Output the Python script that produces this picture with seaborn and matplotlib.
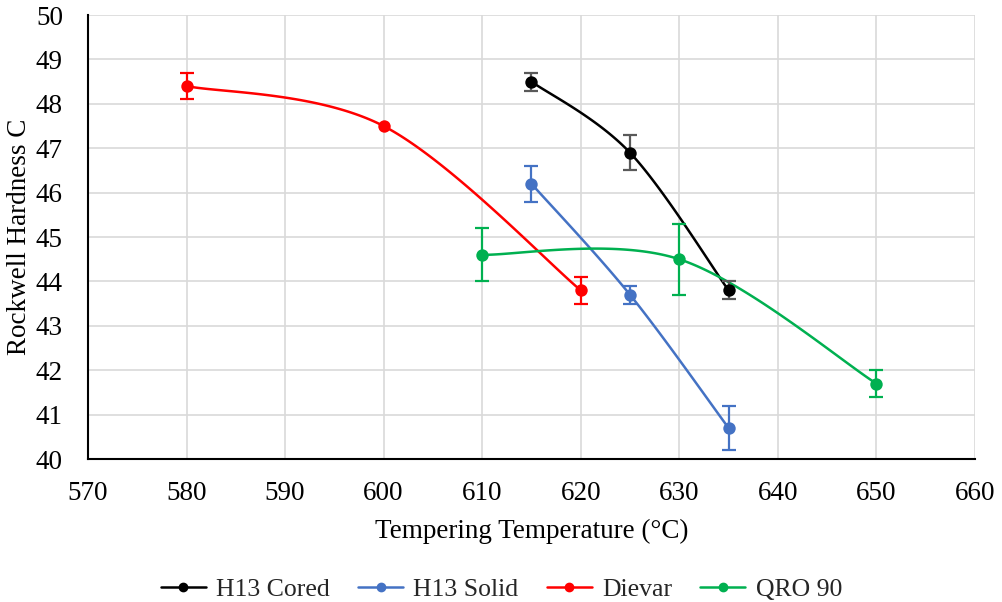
import numpy as np
import pandas as pd
import matplotlib
matplotlib.use("Agg")
import matplotlib.pyplot as plt
import seaborn as sns
from matplotlib.lines import Line2D

series_names = ["H13 Cored", "H13 Solid", "Dievar", "QRO 90"]
h13_cored_x = [615, 625, 635]
h13_cored_y = [48.5, 46.9, 43.8]
h13_cored_err = [0.2, 0.4, 0.2]
h13_solid_x = [615, 625, 635]
h13_solid_y = [46.2, 43.7, 40.7]
h13_solid_err = [0.4, 0.2, 0.5]
dievar_x = [580, 600, 620]
dievar_y = [48.4, 47.5, 43.8]
dievar_err = [0.3, 0.0, 0.3]
qro_x = [610, 630, 650]
qro_y = [44.6, 44.5, 41.7]
qro_err = [0.6, 0.8, 0.3]

colors = ["#000000", "#4472C4", "#FF0000", "#00B050"]
err_colors = ["#595959", "#4472C4", "#FF0000", "#00B050"]

x_ticks = list(range(570, 661, 10))
y_ticks = list(range(40, 51, 1))


def smooth(xs, ys, n=60):
    """Excel-like smoothed line: cubic Bezier through points with Catmull-Rom controls."""
    P = np.column_stack([xs, ys]).astype(float)
    out = []
    m = len(P)
    for i in range(m - 1):
        p0 = P[i]
        p3 = P[i + 1]
        pm = P[i - 1] if i > 0 else P[i]
        pp = P[i + 2] if i + 2 < m else P[i + 1]
        c1 = p0 + (p3 - pm) / 6.0
        c2 = p3 - (pp - p0) / 6.0
        t = np.linspace(0, 1, n)[:, None]
        seg = ((1 - t) ** 3) * p0 + 3 * ((1 - t) ** 2) * t * c1 + 3 * (1 - t) * t ** 2 * c2 + t ** 3 * p3
        out.append(seg if i == 0 else seg[1:])
    return np.vstack(out)


sns.set_theme(style="white")
plt.rcParams["font.family"] = ["Liberation Serif", "DejaVu Serif"]

fig = plt.figure(figsize=(10.03, 6.02), dpi=100)
ax = fig.add_axes([0.0877, 0.2375, 0.8843, 0.7375])

data = [
    (h13_cored_x, h13_cored_y, h13_cored_err),
    (h13_solid_x, h13_solid_y, h13_solid_err),
    (dievar_x, dievar_y, dievar_err),
    (qro_x, qro_y, qro_err),
]

for name, (xs, ys, es), c, ec in zip(series_names, data, colors, err_colors):
    curve = smooth(xs, ys)
    cdf = pd.DataFrame({"x": curve[:, 0], "y": curve[:, 1]})
    sns.lineplot(data=cdf, x="x", y="y", sort=False, estimator=None, color=c, lw=1.8, ax=ax, zorder=3)
    for xi, yi, ei in zip(xs, ys, es):
        if ei > 0:
            ax.errorbar([xi], [yi], yerr=[ei], fmt="none", ecolor=ec, elinewidth=1.6, capsize=5,
                        capthick=1.6, zorder=4)
    pdf = pd.DataFrame({"x": xs, "y": ys})
    sns.scatterplot(data=pdf, x="x", y="y", color=c, s=80, edgecolor=c, linewidth=0, ax=ax, zorder=5)

ax.set_xlim(570, 660)
ax.set_ylim(40, 50)
ax.set_xticks(x_ticks)
ax.set_yticks(y_ticks)
ax.grid(True, color="#D9D9D9", lw=1.2)
ax.set_axisbelow(True)
for s in ["top", "right"]:
    ax.spines[s].set_visible(False)
for s in ["left", "bottom"]:
    ax.spines[s].set_color("black")
    ax.spines[s].set_linewidth(1.5)
ax.tick_params(axis="y", labelsize=19.5, colors="black", length=0, pad=18)
ax.tick_params(axis="x", labelsize=19.5, colors="black", length=0, pad=16)
ax.set_xlabel("Tempering Temperature (°C)", fontsize=19.5, color="black", labelpad=9)
ax.set_ylabel("Rockwell Hardness C", fontsize=19.5, color="black", labelpad=3)

handles = [Line2D([0], [0], color=c, lw=1.8, marker="o", markersize=6) for c in colors]
fig.legend(handles, series_names, loc="center", bbox_to_anchor=(0.5, 0.02), ncol=4, frameon=False,
           fontsize=18.5, handlelength=1.75, columnspacing=1.1, handletextpad=0.4)

fig.savefig("out.png", dpi=100)
